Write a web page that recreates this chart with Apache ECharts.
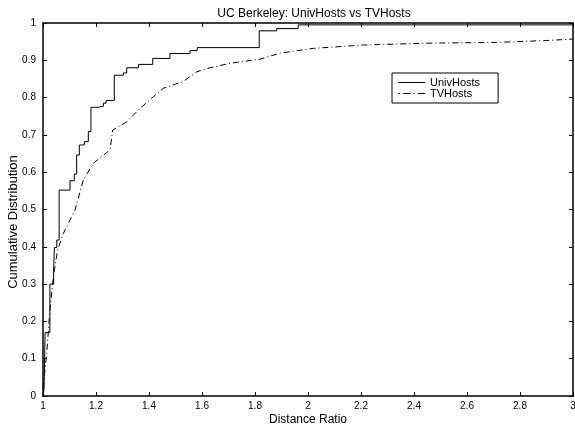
<!DOCTYPE html>
<html><head><meta charset="utf-8">
<script src="https://cdn.jsdelivr.net/npm/echarts@6/dist/echarts.min.js"></script>
<style>html,body{margin:0;padding:0;background:#fff}#c{width:575px;height:426px}</style>
</head><body><div id="c"></div>
<script>
const titleText = 'UC Berkeley: UnivHosts vs TVHosts';
const xTitle = 'Distance Ratio';
const yTitle = 'Cumulative Distribution';
const seriesNames = ['UnivHosts', 'TVHosts'];
const univHosts = [
  [1.000,0.000],[1.004,0.020],[1.008,0.170],[1.026,0.300],[1.040,0.333],[1.043,0.398],
  [1.052,0.418],[1.061,0.552],[1.102,0.577],[1.118,0.595],[1.127,0.646],[1.137,0.673],
  [1.156,0.682],[1.171,0.709],[1.181,0.774],[1.209,0.777],[1.228,0.785],[1.238,0.792],
  [1.269,0.860],[1.303,0.866],[1.316,0.880],[1.360,0.889],[1.414,0.905],[1.479,0.918],
  [1.555,0.926],[1.582,0.934],[1.816,0.979],[1.882,0.985],[1.963,0.995],[3.000,0.995]
];
const tvHosts = [
  [1.000,0.020],[1.014,0.114],[1.026,0.230],[1.039,0.320],[1.055,0.391],[1.077,0.436],
  [1.102,0.472],[1.121,0.499],[1.152,0.579],[1.190,0.624],[1.253,0.660],[1.263,0.713],
  [1.316,0.735],[1.366,0.771],[1.416,0.802],[1.454,0.825],[1.529,0.843],[1.580,0.869],
  [1.618,0.878],[1.706,0.892],[1.819,0.903],[1.894,0.919],[2.020,0.932],[2.209,0.941],
  [2.460,0.946],[2.712,0.948],[2.900,0.953],[3.000,0.957]
];
const xMin = 1, xMax = 3, xStep = 0.2;
const yMin = 0, yMax = 1, yStep = 0.1;

const font = 'Liberation Sans, Arial, sans-serif';
const solidIcon = 'path://M0,0h27v1h-27z';
const dashDotIcon = 'path://M0,0h2v1h-2zM5,0h7v1h-7zM15,0h1v1h-1zM19,0h7v1h-7z';
const chart = echarts.init(document.getElementById('c'), null, {renderer: 'canvas'});
const baseAxis = {
  axisLine: {show: true, onZero: false, lineStyle: {color: '#000', width: 1.5}},
  axisTick: {show: true, inside: true, length: 4, lineStyle: {color: '#000'}},
  splitLine: {show: false},
  axisLabel: {color: '#000', fontFamily: font, fontSize: 10}
};
chart.setOption({
  animation: false,
  backgroundColor: '#fff',
  title: {text: titleText, left: 309, textAlign: 'center', top: 3,
    textStyle: {fontFamily: font, fontSize: 12, fontWeight: 'normal', color: '#000'}},
  grid: {left: 43, right: 2, top: 23, bottom: 30, show: false, containLabel: false, outerBoundsMode: 'none'},
  legend: {
    left: 392, top: 73, orient: 'vertical',
    data: [{name: seriesNames[0], icon: solidIcon}, {name: seriesNames[1], icon: dashDotIcon}],
    symbolKeepAspect: true,
    borderColor: '#000', borderWidth: 1, padding: [4, 18, 4, 6], itemGap: 0,
    itemWidth: 27, itemHeight: 10,
    itemStyle: {color: '#000', borderWidth: 0},
    textStyle: {fontFamily: font, fontSize: 11, color: '#000', lineHeight: 10}
  },
  xAxis: [
    Object.assign({}, baseAxis, {type: 'value', min: xMin, max: xMax, interval: xStep, position: 'bottom',
      name: xTitle, nameLocation: 'middle', nameGap: 18, nameMoveOverlap: false,
      nameTextStyle: {fontFamily: font, fontSize: 12, color: '#000'},
      axisLabel: Object.assign({}, baseAxis.axisLabel, {margin: 5})}),
    Object.assign({}, baseAxis, {type: 'value', min: xMin, max: xMax, interval: xStep, position: 'top',
      axisLabel: {show: false}})
  ],
  yAxis: [
    Object.assign({}, baseAxis, {type: 'value', min: yMin, max: yMax, interval: yStep, position: 'left',
      name: yTitle, nameLocation: 'middle', nameGap: 23, nameMoveOverlap: false,
      nameTextStyle: {fontFamily: font, fontSize: 13, color: '#000', padding: [0, 25, 0, 0]},
      axisLabel: Object.assign({}, baseAxis.axisLabel, {margin: 7})}),
    Object.assign({}, baseAxis, {type: 'value', min: yMin, max: yMax, interval: yStep, position: 'right',
      axisLabel: {show: false}})
  ],
  series: [
    {name: seriesNames[0], type: 'line', step: 'end', data: univHosts, showSymbol: false, symbol: 'none',
      lineStyle: {color: '#000', width: 1}, itemStyle: {color: '#000'}},
    {name: seriesNames[1], type: 'line', data: tvHosts, showSymbol: false, symbol: 'none',
      lineStyle: {color: '#000', width: 1, type: [6, 3, 1, 3]}, itemStyle: {color: '#000'}}
  ]
});
</script></body></html>
